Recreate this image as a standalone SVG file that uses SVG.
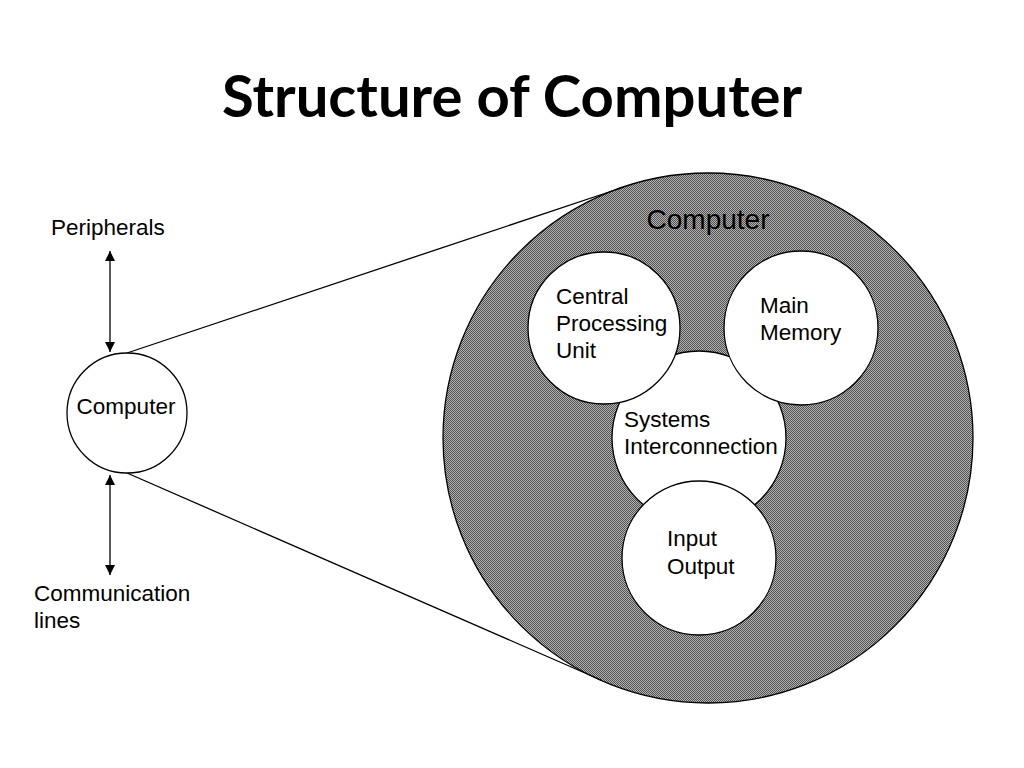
<svg xmlns="http://www.w3.org/2000/svg" width="1024" height="768" viewBox="0 0 1024 768">
<style>
.t{font-family:"Liberation Sans",Arial,sans-serif;fill:#000}
.s{font-size:22.5px}
.c{fill:#fff;stroke:#000;stroke-width:1.3}
.ln{stroke:#000;stroke-width:1.3;fill:none}
</style>
<defs>
<pattern id="chk" width="2" height="2" patternUnits="userSpaceOnUse">
<rect width="2" height="2" fill="#b4b4b4"/>
<rect width="1" height="1" fill="#505050"/>
<rect x="1" y="1" width="1" height="1" fill="#505050"/>
</pattern>
<marker id="ah" viewBox="0 0 10 10" refX="10" refY="5" markerWidth="11" markerHeight="10" markerUnits="userSpaceOnUse" orient="auto-start-reverse">
<path d="M0,0 L10,5 L0,10 z" fill="#000"/>
</marker>
</defs>
<rect width="1024" height="768" fill="#fff"/>
<text x="512" y="117" text-anchor="middle" font-family="Lato,'Open Sans',sans-serif" font-weight="bold" font-size="58">Structure of Computer</text>
<g id="computer-big">
<circle cx="708" cy="438" r="265" fill="url(#chk)" stroke="#000" stroke-width="1.3"/>
<text class="t" x="708" y="229" text-anchor="middle" font-size="28">Computer</text>
</g>
<g id="connectors">
<line class="ln" x1="127" y1="353" x2="624" y2="187"/>
<line class="ln" x1="127" y1="473" x2="601" y2="680"/>
<line class="ln" x1="110" y1="251" x2="110" y2="352" marker-start="url(#ah)" marker-end="url(#ah)"/>
<line class="ln" x1="110" y1="475" x2="110" y2="575" marker-start="url(#ah)" marker-end="url(#ah)"/>
</g>
<g id="peripherals"><text class="t s" x="51" y="235">Peripherals</text></g>
<g id="communication"><text class="t s" x="34" y="601">Communication</text><text class="t s" x="34" y="628">lines</text></g>
<g id="computer-small">
<circle class="c" cx="127" cy="413" r="60"/>
<text class="t s" x="126" y="414" text-anchor="middle">Computer</text>
</g>
<g id="systems-interconnection">
<circle class="c" cx="699" cy="438" r="87"/>
<text class="t s" x="624" y="427">Systems</text>
<text class="t s" x="624" y="454">Interconnection</text>
</g>
<g id="cpu">
<circle class="c" cx="604" cy="328" r="76"/>
<text class="t s" x="556" y="304">Central</text>
<text class="t s" x="556" y="331">Processing</text>
<text class="t s" x="556" y="358">Unit</text>
</g>
<g id="main-memory">
<circle class="c" cx="801" cy="328" r="77"/>
<text class="t s" x="760" y="313">Main</text>
<text class="t s" x="760" y="340">Memory</text>
</g>
<g id="input-output">
<circle class="c" cx="699" cy="558" r="77"/>
<text class="t s" x="667" y="546">Input</text>
<text class="t s" x="667" y="574">Output</text>
</g>
</svg>
